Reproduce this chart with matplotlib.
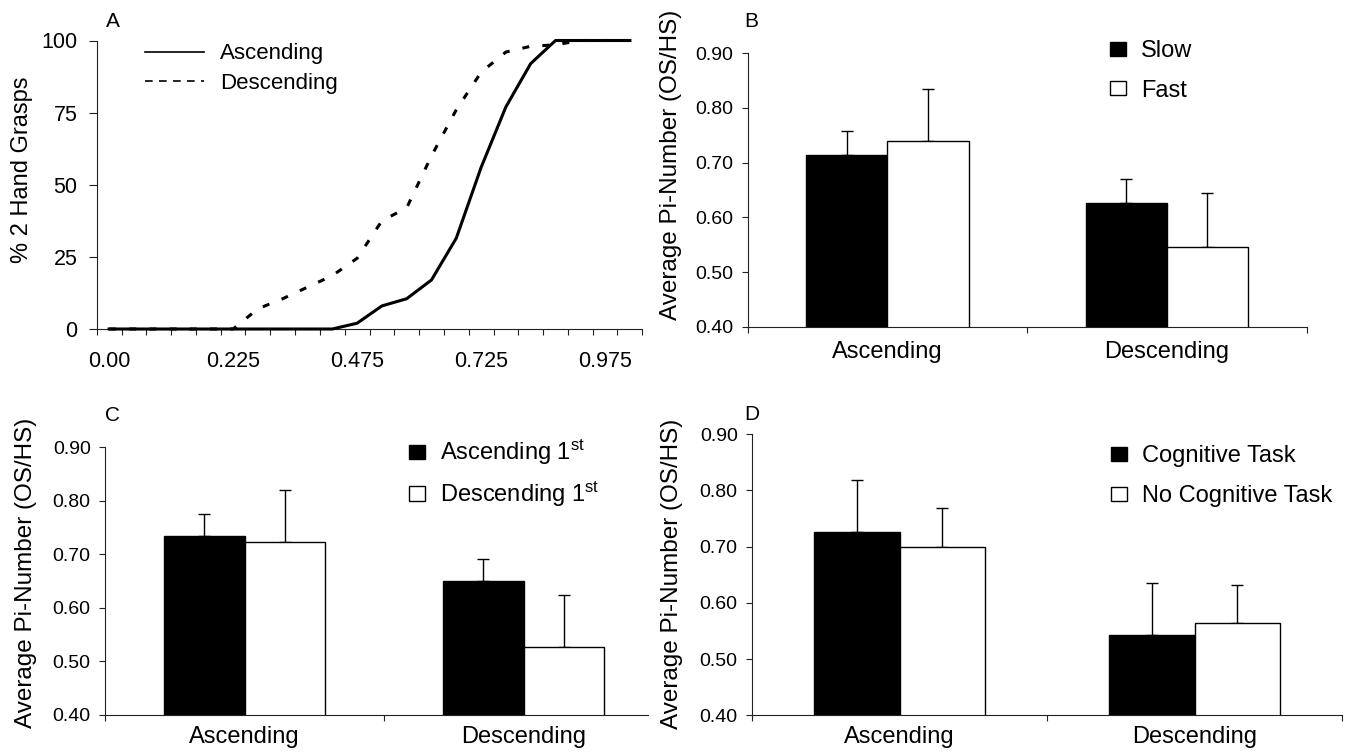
import numpy as np
import matplotlib
matplotlib.use("Agg")
import matplotlib.pyplot as plt
from matplotlib.patches import Patch
from matplotlib.lines import Line2D

plt.rcParams['font.family'] = ['Liberation Sans', 'DejaVu Sans']
plt.rcParams['mathtext.fontset'] = 'custom'
plt.rcParams['mathtext.rm'] = 'Liberation Sans'
plt.rcParams['mathtext.it'] = 'Liberation Sans:italic'
plt.rcParams['mathtext.bf'] = 'Liberation Sans:bold'

# ---------------- data ----------------
# Panel A: % of 2-hand grasps per pi-number bin
grip_bins = ['0.00', '0.025', '0.075', '0.125', '0.175', '0.225', '0.275', '0.325',
             '0.375', '0.425', '0.475', '0.525', '0.575', '0.625', '0.675', '0.725',
             '0.775', '0.825', '0.875', '0.925', '0.975', '1.025']
ascending_pct = [0, 0, 0, 0, 0, 0, 0, 0, 0, 0, 2, 8, 10.5, 17, 31.5, 56, 77, 92,
                 100, 100, 100, 100]
descending_pct = [0, 0, 0, 0, 0, 0, 7, 10.5, 14.5, 18.5, 24.5, 37.5, 42, 60, 76,
                  89, 96, 98, 98.5, 100, 100, 100]
line_labels = ['Ascending', 'Descending']

# Bar panels
conditions = ['Ascending', 'Descending']
y_ticks = [0.40, 0.50, 0.60, 0.70, 0.80, 0.90]

b_labels = ['Slow', 'Fast']
b_slow = [0.714, 0.627]
b_slow_err = [0.044, 0.043]
b_fast = [0.739, 0.546]
b_fast_err = [0.096, 0.099]

c_labels = ['Ascending 1$^{\\mathrm{st}}$', 'Descending 1$^{\\mathrm{st}}$']
c_asc_first = [0.734, 0.650]
c_asc_first_err = [0.041, 0.041]
c_desc_first = [0.722, 0.526]
c_desc_first_err = [0.098, 0.097]

d_labels = ['Cognitive Task', 'No Cognitive Task']
d_cog = [0.726, 0.543]
d_cog_err = [0.092, 0.093]
d_nocog = [0.700, 0.565]
d_nocog_err = [0.068, 0.067]

# ---------------- figure ----------------
W, H = 1353, 755
fig = plt.figure(figsize=(W / 100, H / 100), dpi=100)
SP = '#222222'


def px_axes(left, top, right, bottom):
    return fig.add_axes([left / W, 1 - bottom / H, (right - left) / W, (bottom - top) / H])


def ftext(x, y, s, **kw):
    fig.text(x / W, 1 - y / H, s, **kw)


def style_spines(ax):
    for s in ['top', 'right']:
        ax.spines[s].set_visible(False)
    for s in ['left', 'bottom']:
        ax.spines[s].set_linewidth(0.8)
        ax.spines[s].set_color(SP)


def px_legend(ax, handles, labels, left, top, fs, **kw):
    ax.legend(handles, labels, loc='upper left',
              bbox_to_anchor=(left / W, 1 - top / H), bbox_transform=fig.transFigure,
              frameon=False, borderpad=0, borderaxespad=0, fontsize=fs, **kw)


# ---------- Panel A ----------
axA = px_axes(96.7, 40.5, 642.3, 329)
xA = np.arange(len(grip_bins))
axA.plot(xA, ascending_pct, color='black', lw=2.2, clip_on=False, zorder=3)
axA.plot(xA, descending_pct, color='black', lw=2.2, dashes=(2.3, 4.3),
         clip_on=False, zorder=3)
axA.set_xlim(-0.5, len(grip_bins) - 0.5)
axA.set_ylim(0, 100)
axA.set_yticks([0, 25, 50, 75, 100])
axA.set_xticks(np.arange(len(grip_bins) + 1) - 0.5,
               labels=[''] * (len(grip_bins) + 1))
axA.set_xticks(xA[::5], labels=[grip_bins[i] for i in xA[::5]], minor=True)
axA.tick_params(axis='x', which='major', length=4.3, width=0.8, color=SP)
axA.tick_params(axis='x', which='minor', length=0, pad=15.5, labelsize=15.5)
axA.tick_params(axis='y', length=6, width=0.8, color=SP, pad=8, labelsize=15.5)
style_spines(axA)
legA = [Line2D([], [], color='black', lw=1.2),
        Line2D([], [], color='black', lw=1.2, dashes=(4.6, 3.8))]
px_legend(axA, legA, line_labels, 145, 43.5, 16, handlelength=2.66,
          handletextpad=0.72, labelspacing=0.38)
ftext(22, 170, '% 2 Hand Grasps', rotation=90, ha='center', va='center', fontsize=17)
ftext(113.3, 27.3, 'A', ha='center', va='baseline', fontsize=15)


# ---------- bar panels ----------
def bar_panel(ax, s1, e1, s2, e2, xmax, cat_pad, names, leg_left, leg_top, lspace):
    w = 0.29
    xc = np.arange(len(conditions)) + 0.5
    ax.bar(xc - w / 2, s1, width=w, color='black', edgecolor='black', lw=1.0, zorder=2)
    ax.bar(xc + w / 2, s2, width=w, color='white', edgecolor='black', lw=1.0, zorder=2)
    zeros = np.zeros(len(conditions))
    ax.errorbar(xc - w / 2, s1, yerr=[zeros, e1], fmt='none', ecolor='black',
                elinewidth=1.0, capsize=4.3, capthick=1.0, zorder=1)
    ax.errorbar(xc + w / 2, s2, yerr=[zeros, e2], fmt='none', ecolor='black',
                elinewidth=1.0, capsize=4.3, capthick=1.0, zorder=1)
    ax.set_ylim(y_ticks[0], y_ticks[-1])
    ax.set_yticks(y_ticks, labels=['%.2f' % v for v in y_ticks])
    ax.set_xlim(0, xmax)
    ticks = [t for t in (0, 1, 2) if t <= xmax + 1e-9]
    ax.set_xticks(ticks, labels=[''] * len(ticks))
    ax.set_xticks(xc, labels=conditions, minor=True)
    ax.tick_params(axis='x', which='major', length=4.3, width=0.8, color=SP)
    ax.tick_params(axis='x', which='minor', length=0, pad=cat_pad, labelsize=17)
    ax.tick_params(axis='y', length=4.3, width=0.8, color=SP, pad=6.0, labelsize=14)
    style_spines(ax)
    handles = [Patch(facecolor='black', edgecolor='black', lw=1.0),
               Patch(facecolor='white', edgecolor='black', lw=1.0)]
    px_legend(ax, handles, names, leg_left, leg_top, 17, handlelength=0.68,
              handleheight=0.55, handletextpad=0.64, labelspacing=lspace)


axB = px_axes(747.7, 53.3, 1306.7, 326.7)
bar_panel(axB, b_slow, b_slow_err, b_fast, b_fast_err, 2.0, 10.4, b_labels, 1110, 40,
          0.75)
ftext(671, 165, 'Average Pi-Number (OS/HS)', rotation=90, ha='center', va='center',
      fontsize=17.5)
ftext(750.8, 27, 'B', ha='center', va='baseline', fontsize=15)

axC = px_axes(105, 447.3, 648, 714.7)
bar_panel(axC, c_asc_first, c_asc_first_err, c_desc_first, c_desc_first_err, 1.946,
          8.2, c_labels, 409, 438, 0.52)
ftext(26, 573, 'Average Pi-Number (OS/HS)', rotation=90, ha='center', va='center',
      fontsize=17.5)
ftext(113, 420.7, 'C', ha='center', va='baseline', fontsize=15)

axD = px_axes(752, 434.3, 1342, 715.3)
bar_panel(axD, d_cog, d_cog_err, d_nocog, d_nocog_err, 2.0, 7.9, d_labels, 1111, 445,
          0.78)
ftext(672, 574, 'Average Pi-Number (OS/HS)', rotation=90, ha='center', va='center',
      fontsize=17.5)
ftext(752, 420, 'D', ha='center', va='baseline', fontsize=15)

fig.savefig('out.png', dpi=100)
